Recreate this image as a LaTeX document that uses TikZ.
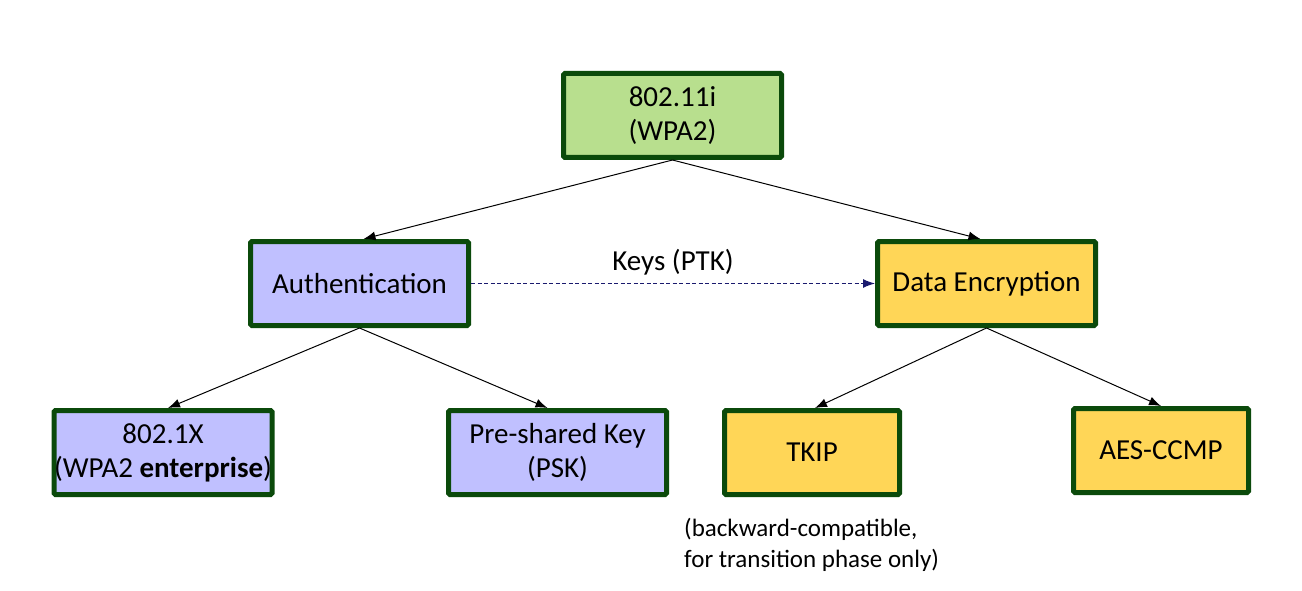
\documentclass[tikz,border=0pt]{standalone}
\usepackage{fontspec}
\setmainfont{Carlito}
\usetikzlibrary{arrows.meta}
\definecolor{bordergreen}{HTML}{0B4A0B}
\definecolor{topfill}{HTML}{B8DF8E}
\definecolor{authfill}{HTML}{C0C0FF}
\definecolor{encfill}{HTML}{FFD657}
\definecolor{keynavy}{HTML}{1A1A6E}
\begin{document}
\begin{tikzpicture}[x=1pt,y=-1pt,
  box/.style={draw=bordergreen,line width=5pt,rounded corners=1.5pt,
    minimum height=84pt,align=center,inner sep=0pt,
    font=\fontsize{29}{34}\selectfont},
  wide/.style={minimum width=218pt},
  narrow/.style={minimum width=175pt},
  link/.style={-{Latex[length=12pt,width=9pt]},line width=1pt,black},
  keyarrow/.style={-{Latex[length=12pt,width=9pt]},line width=1.2pt,keynavy,dash pattern=on 4pt off 2.5pt}
]
\useasboundingbox (0,0) rectangle (1302,591);
\node[box,wide,fill=topfill] (top) at (672.5,115.5) {802.11i\\(WPA2)};
\node[box,wide,fill=authfill] (auth) at (359.5,283.5) {Authentication};
\node[box,wide,fill=encfill] (enc) at (986.5,283.5) {Data Encryption};
\node[box,wide,fill=authfill] (x) at (163,452.5) {802.1X\\(WPA2 \textbf{enterprise})};
\node[box,wide,fill=authfill] (psk) at (557.5,452.5) {Pre-shared Key\\(PSK)};
\node[box,narrow,fill=encfill] (tkip) at (812,452.5) {TKIP};
\node[box,narrow,fill=encfill] (aes) at (1161,450.5) {AES-CCMP};
\node[anchor=north west,align=left,inner sep=0pt,font=\fontsize{25}{31}\selectfont] (note) at (684,518) {(backward-compatible,\\for transition phase only)};
\draw[link] (top.south) -- ([xshift=4pt]auth.north);
\draw[link] (top.south) -- ([xshift=-6pt]enc.north);
\draw[link] (auth.south) -- ([xshift=5pt]x.north);
\draw[link] (auth.south) -- ([xshift=-10pt]psk.north);
\draw[link] (enc.south) -- ([xshift=3pt]tkip.north);
\draw[link] (enc.south) -- (aes.north);
\draw[keyarrow] (auth.east) -- node[above=4pt,text=black,font=\fontsize{29}{34}\selectfont] (keys) {Keys (PTK)} (enc.west);
\end{tikzpicture}
\end{document}
